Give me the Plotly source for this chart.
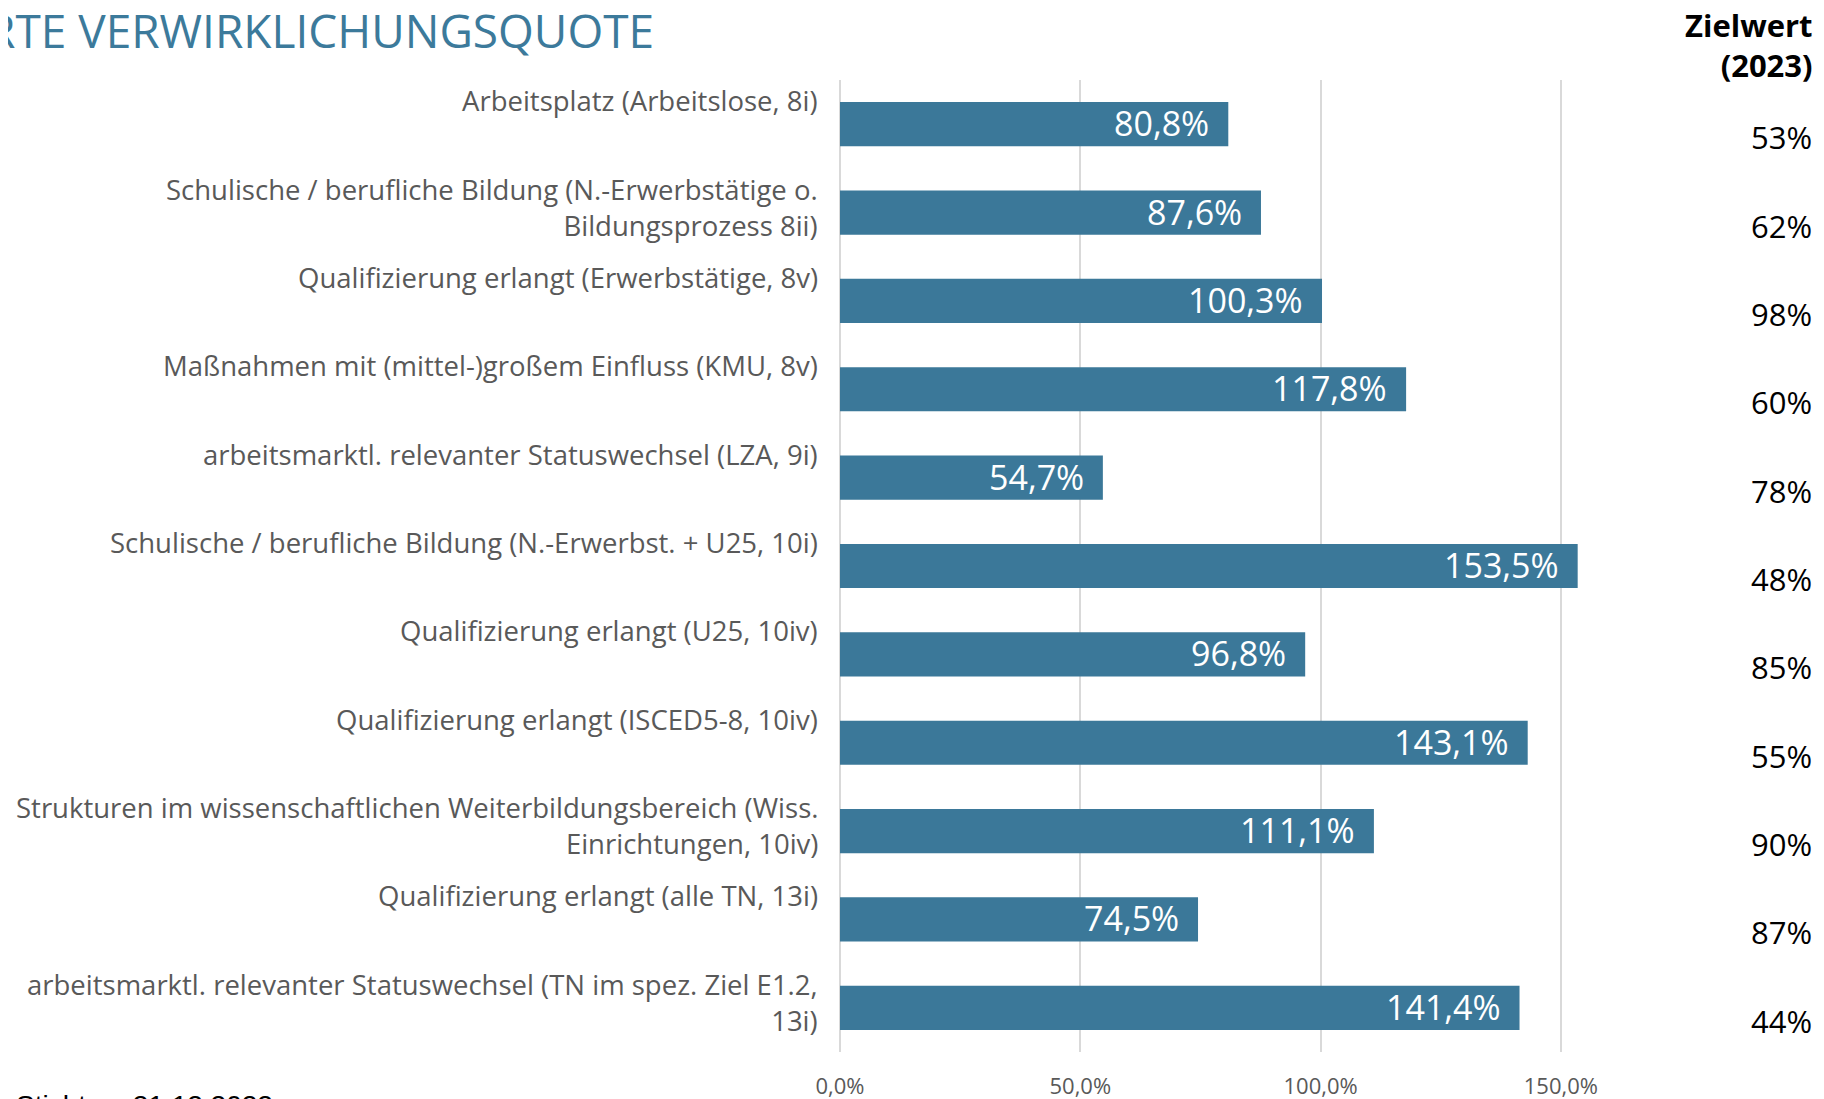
import plotly.graph_objects as go

categories = [
    "Arbeitsplatz (Arbeitslose, 8i)",
    "Schulische / berufliche Bildung (N.-Erwerbstätige o.<br>Bildungsprozess 8ii)",
    "Qualifizierung erlangt (Erwerbstätige, 8v)",
    "Maßnahmen mit (mittel-)großem Einfluss (KMU, 8v)",
    "arbeitsmarktl. relevanter Statuswechsel (LZA, 9i)",
    "Schulische / berufliche Bildung (N.-Erwerbst. + U25, 10i)",
    "Qualifizierung erlangt (U25, 10iv)",
    "Qualifizierung erlangt (ISCED5-8, 10iv)",
    "Strukturen im wissenschaftlichen Weiterbildungsbereich (Wiss.<br>Einrichtungen, 10iv)",
    "Qualifizierung erlangt (alle TN, 13i)",
    "arbeitsmarktl. relevanter Statuswechsel (TN im spez. Ziel E1.2,<br>13i)",
]
quote_values = [80.8, 87.6, 100.3, 117.8, 54.7, 153.5, 96.8, 143.1, 111.1, 74.5, 141.4]
zielwert_values = [53, 62, 98, 60, 78, 48, 85, 55, 90, 87, 44]
x_tickvals = [0, 50, 100, 150]
x_ticktext = [f"{v:.1f}".replace(".", ",") + "%" for v in x_tickvals]

title_text = "RTE VERWIRKLICHUNGSQUOTE"
zielwert_header = "Zielwert<br>(2023)"
footnote_text = "Stichtag: 31.12.2022"

# page is 1824x1099; the html body adds an 8px offset
OFF = 8
W, H = 1824, 1099
L, R, T, B = 840, 143, 80, 47   # page-pixel plot-area edges (left, right gap, top, bottom gap)
PW = W - L - R
PH = H - T - B


def xp(px):
    return (px - L) / PW


def yp(py):
    return 1 - (py - T) / PH


BAR = "#3B7899"
GREY = "#595959"
FONT = "Open Sans"

fig = go.Figure()
fig.add_trace(go.Bar(
    y=categories,
    x=quote_values,
    orientation="h",
    marker=dict(color=BAR, line=dict(width=0)),
    hoverinfo="skip",
))

annotations = []
for cat, v, z in zip(categories, quote_values, zielwert_values):
    annotations.append(dict(
        x=v, y=cat, xref="x", yref="y",
        text=f"{v:.1f}".replace(".", ",") + "%",
        xanchor="right", yanchor="middle", xshift=-17, yshift=1,
        showarrow=False,
        font=dict(family=FONT, size=34, color="white"),
    ))
    annotations.append(dict(
        x=xp(820), y=cat, xref="paper", yref="y",
        text=cat, align="right",
        xanchor="right", yanchor="top", yshift=44,
        showarrow=False,
        font=dict(family=FONT, size=27.5, color=GREY),
    ))
    annotations.append(dict(
        x=xp(1814), y=cat, xref="paper", yref="y",
        text=f"{z}%",
        xanchor="right", yanchor="middle", yshift=-13,
        showarrow=False,
        font=dict(family=FONT, size=31, color="black"),
    ))

annotations.append(dict(
    x=xp(656), y=yp(30), xref="paper", yref="paper",
    text=title_text, xanchor="right", yanchor="middle",
    showarrow=False,
    font=dict(family=FONT, size=46, color="#3C7A9B"),
))
annotations.append(dict(
    x=xp(1815), y=yp(45), xref="paper", yref="paper",
    text="<b>" + zielwert_header.replace("<br>", "</b><br><b>") + "</b>",
    align="right", xanchor="right", yanchor="middle",
    showarrow=False,
    font=dict(family=FONT, size=31, color="black"),
))
annotations.append(dict(
    x=xp(14), y=yp(1088), xref="paper", yref="paper",
    text=footnote_text, xanchor="left", yanchor="top",
    showarrow=False,
    font=dict(family="Liberation Sans", size=28, color="black"),
))

fig.update_layout(
    width=W - OFF, height=H - OFF,
    margin=dict(l=L - OFF, r=R, t=T - OFF, b=B, pad=0, autoexpand=False),
    paper_bgcolor="white", plot_bgcolor="white",
    bargap=0.5,
    showlegend=False,
    annotations=annotations,
    xaxis=dict(
        range=[0, 175],
        tickmode="array", tickvals=x_tickvals, ticktext=x_ticktext,
        showgrid=True, gridcolor="#D9D9D9", gridwidth=1.5,
        zeroline=True, zerolinecolor="#D9D9D9", zerolinewidth=1.5,
        showline=False, ticks="",
        ticklabelstandoff=19,
        automargin=False,
        tickfont=dict(family=FONT, size=22, color=GREY),
        fixedrange=True,
    ),
    yaxis=dict(
        categoryorder="array", categoryarray=categories,
        autorange="reversed",
        showticklabels=False, showgrid=False, zeroline=False,
        showline=False, ticks="",
        automargin=False,
        fixedrange=True,
    ),
)

fig.write_html("out.html")
